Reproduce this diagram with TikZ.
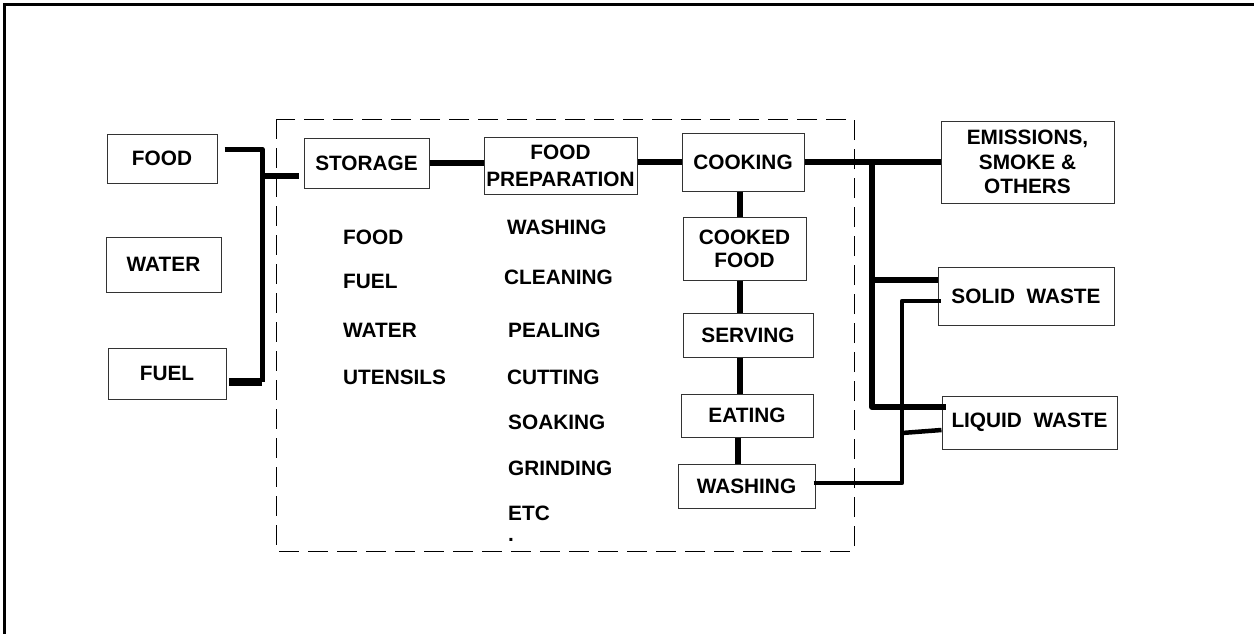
\documentclass[tikz,border=0pt]{standalone}
\usepackage{fontspec}
\setmainfont{Liberation Sans}
\usetikzlibrary{calc}
\begin{document}
\begin{tikzpicture}[x=1pt,y=-1pt,
  box/.style={draw=black!80, line width=1pt, inner sep=0pt, align=center,
    font=\bfseries\fontsize{20.8}{24}\selectfont},
  lbl/.style={anchor=west, inner sep=0pt, font=\bfseries\fontsize{20.8}{24}\selectfont},
  thickline/.style={line width=6pt, line join=round},
  medline/.style={line width=4.5pt, line join=round}]
\useasboundingbox (0,0) rectangle (1254,634);
% outer frame (top and left only)
\draw[line width=3pt] (4,634) -- (4,5) -- (1254,5);
% dashed region
\draw[line width=0.9pt, dash pattern=on 20pt off 9pt] (276,119) rectangle (854,551);
% input boxes
\node[box, minimum width=110pt, minimum height=49pt] (food) at (162,158.5) {FOOD};
\node[box, minimum width=115pt, minimum height=55pt] (water) at (163.5,264.5) {WATER};
\node[box, minimum width=118pt, minimum height=51pt] (fuel) at (167,373.5) {FUEL};
% process boxes
\node[box, minimum width=125pt, minimum height=50pt] (storage) at (366.5,163) {STORAGE};
\node[box, minimum width=153pt, minimum height=57pt, font=\bfseries\fontsize{20.8}{27}\selectfont] (prep) at (560.5,165.5) {FOOD\\PREPARATION};
\node[box, minimum width=122pt, minimum height=58pt] (cooking) at (743,162) {COOKING};
\node[box, minimum width=123pt, minimum height=63pt, font=\bfseries\fontsize{20.8}{23}\selectfont] (cooked) at (744.5,248.5) {COOKED\\FOOD};
\node[box, minimum width=130pt, minimum height=44pt] (serving) at (748,335) {SERVING};
\node[box, minimum width=132pt, minimum height=43pt] (eating) at (747,415.5) {EATING};
\node[box, minimum width=137pt, minimum height=44pt] (washing) at (746.5,486) {WASHING};
% output boxes
\node[box, minimum width=173pt, minimum height=82pt, font=\bfseries\fontsize{20.8}{24.5}\selectfont] (emis) at (1027.5,162) {EMISSIONS,\\SMOKE \&\\OTHERS};
\node[box, minimum width=176pt, minimum height=58pt] (solid) at (1026,296) {SOLID\ \ WASTE};
\node[box, minimum width=175pt, minimum height=53pt] (liquid) at (1029.5,422.5) {LIQUID\ \ WASTE};
% storage items
\node[lbl] (s1) at (343,237) {FOOD};
\node[lbl] (s2) at (343,281) {FUEL};
\node[lbl] (s3) at (343,330) {WATER};
\node[lbl] (s4) at (343,377) {UTENSILS};
% preparation items
\node[lbl] (p1) at (507,227) {WASHING};
\node[lbl] (p2) at (504,277) {CLEANING};
\node[lbl] (p3) at (508,330) {PEALING};
\node[lbl] (p4) at (507,377) {CUTTING};
\node[lbl] (p5) at (508,422) {SOAKING};
\node[lbl] (p6) at (508,468) {GRINDING};
\node[lbl] (p7) at (508,513) {ETC};
\node[lbl] (p8) at (508,540) {.};
% left collector
\coordinate (jt) at (262,149);
\coordinate (jb) at (262,382);
\coordinate (js) at (262,176);
\draw[line width=5pt, line join=round] ([xshift=7pt]food.east |- jt) -- (jt) -- (jb);
\draw[line width=8pt] (jb) -- ([xshift=2pt]fuel.east |- jb);
\draw[thickline] (js) -- ([xshift=-5pt]storage.west |- js);
% main chain
\draw[thickline] (storage.east) -- (storage.east -| prep.west);
\draw[thickline] (cooking.west -| prep.east) -- (cooking.west);
\coordinate (col) at (740,0);
\draw[thickline] (cooking.south -| col) -- (cooked.north -| col);
\draw[thickline] (cooked.south -| col) -- (serving.north -| col);
\draw[thickline] (serving.south -| col) -- (eating.north -| col);
\coordinate (col2) at (738,0);
\draw[thickline] (eating.south -| col2) -- (washing.north -| col2);
% output collector
\coordinate (jr) at (872,162);
\coordinate (jrs) at (872,280);
\coordinate (jrb) at (872,407);
\draw[thickline] (cooking.east) -- (emis.west);
\draw[thickline] (jr) -- (jrb) -- ([xshift=4pt]liquid.west |- jrb);
\draw[thickline] (jrs) -- (solid.west |- jrs);
% washing return
\coordinate (w1) at (902,483);
\coordinate (w2) at (902,301);
\coordinate (w3) at (902,433);
\draw[medline] ([xshift=-2pt]washing.east |- w1) -- (w1) -- (w2) -- ([xshift=3pt]solid.west |- w2);
\draw[medline] (w3) -- ([yshift=-7.5pt]liquid.west);
\end{tikzpicture}
\end{document}
